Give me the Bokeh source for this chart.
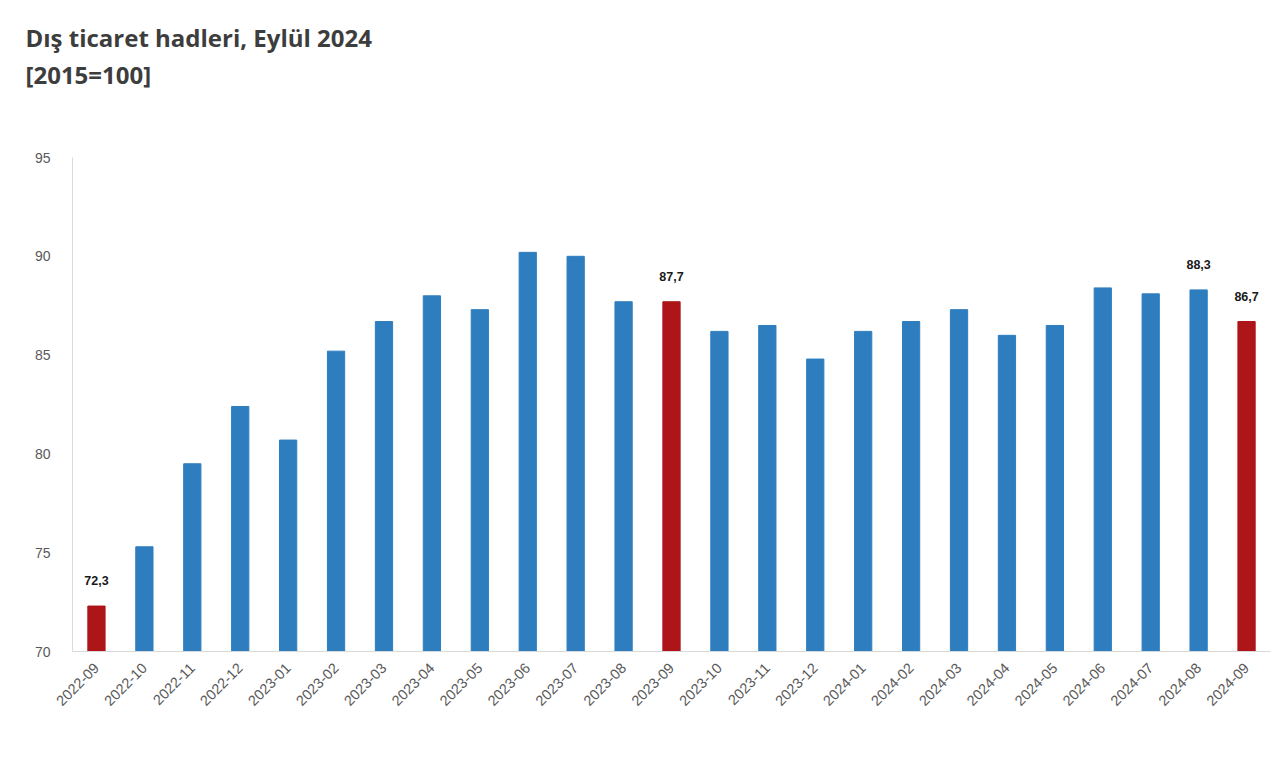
from bokeh.plotting import figure
from bokeh.models import ColumnDataSource, Title, Range1d, FixedTicker
from bokeh.core.properties import value
from bokeh.embed import file_html
from bokeh.resources import INLINE
import math

months = ["2022-09", "2022-10", "2022-11", "2022-12", "2023-01", "2023-02", "2023-03",
          "2023-04", "2023-05", "2023-06", "2023-07", "2023-08", "2023-09", "2023-10",
          "2023-11", "2023-12", "2024-01", "2024-02", "2024-03", "2024-04", "2024-05",
          "2024-06", "2024-07", "2024-08", "2024-09"]
values = [72.3, 75.3, 79.5, 82.4, 80.7, 85.2, 86.7, 88.0, 87.3, 90.2, 90.0, 87.7, 87.7,
          86.2, 86.5, 84.8, 86.2, 86.7, 87.3, 86.0, 86.5, 88.4, 88.1, 88.3, 86.7]
highlight = ["2022-09", "2023-09", "2024-09"]
labeled = ["2022-09", "2023-09", "2024-08", "2024-09"]
y_ticks = [70, 75, 80, 85, 90, 95]

BLUE = "#2e7ebf"
RED = "#ad1519"

colors = [RED if m in highlight else BLUE for m in months]
src = ColumnDataSource(dict(m=months, v=values, c=colors))

lab_m = [m for m in months if m in labeled]
lab_v = [v for m, v in zip(months, values) if m in labeled]
lab_t = [("%.1f" % v).replace(".", ",") for v in lab_v]
lsrc = ColumnDataSource(dict(m=lab_m, v=lab_v, t=lab_t))

p = figure(x_range=months, y_range=Range1d(70, 95), width=1272, height=758,
           output_backend="svg", toolbar_location=None, title=None,
           min_border_left=72, min_border_right=2, min_border_top=157, min_border_bottom=107)

p.vbar(x="m", top="v", bottom=70, width=0.36, color="c", source=src)
p.text(x="m", y="v", text="t", source=lsrc, text_align="center", text_baseline="bottom",
       y_offset=-21, text_font=value("Liberation Sans"), text_font_size="12.5px",
       text_font_style="bold", text_color="#1a1a1a")

p.xgrid.grid_line_color = None
p.ygrid.grid_line_color = None
p.outline_line_color = None

p.yaxis.ticker = FixedTicker(ticks=y_ticks)
p.yaxis.axis_line_color = "#d9d9d9"
p.yaxis.major_tick_line_color = None
p.yaxis.minor_tick_line_color = None
p.yaxis.major_label_standoff = 16
p.yaxis.major_label_text_font = "Liberation Sans"
p.yaxis.major_label_text_font_size = "14px"
p.yaxis.major_label_text_color = "#595959"

p.xaxis.axis_line_color = "#d9d9d9"
p.xaxis.major_tick_line_color = None
p.xaxis.minor_tick_line_color = None
p.xaxis.major_label_orientation = math.pi / 4
p.xaxis.major_label_standoff = 8
p.xaxis.major_label_text_font = "Liberation Sans"
p.xaxis.major_label_text_font_size = "14.5px"
p.xaxis.major_label_text_color = "#595959"

# spacer between titles and plot area
p.add_layout(Title(text=" ", align="left", standoff=31,
                   text_font="Open Sans", text_font_size="24px"), "above")
p.add_layout(Title(text="[2015=100]", align="left", offset=-47, standoff=2,
                   text_font="Open Sans", text_font_size="24px", text_font_style="bold",
                   text_color="#3d3d3d"), "above")
p.add_layout(Title(text="Dış ticaret hadleri, Eylül 2024", align="left", offset=-47,
                   standoff=2, text_font="Open Sans", text_font_size="24px",
                   text_font_style="bold", text_color="#3d3d3d"), "above")

open("out.html", "w").write(file_html(p, INLINE))
